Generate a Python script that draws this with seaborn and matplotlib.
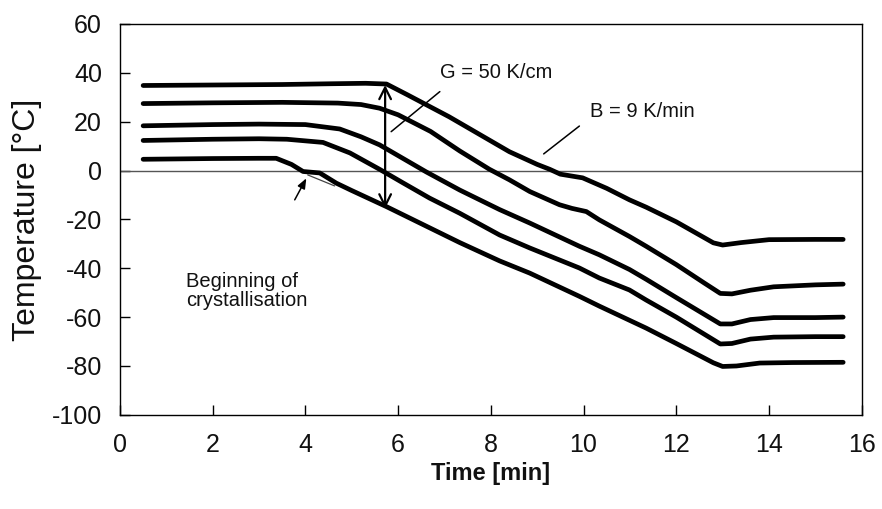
import numpy as np
import pandas as pd
import matplotlib
matplotlib.use("Agg")
import matplotlib.pyplot as plt
from matplotlib import font_manager
import seaborn as sns

# ---- data ----
t1 = [0.5, 2.0, 3.5, 4.5, 5.3, 5.75, 6.2, 7.1, 8.4, 9.0, 9.27, 9.5, 9.98, 10.5, 10.99, 11.35, 12.0, 12.8, 13.0, 13.4, 14.0, 15.0, 15.6]
T1 = [34.8, 35.0, 35.2, 35.5, 35.7, 35.4, 31.0, 22.0, 7.7, 2.5, 0.5, -1.5, -3.0, -7.3, -12.0, -15.0, -21.0, -29.6, -30.5, -29.5, -28.3, -28.2, -28.2]

t2 = [0.5, 2.0, 3.5, 4.7, 5.2, 5.6, 6.0, 6.7, 7.33, 7.97, 8.4, 8.84, 9.48, 9.75, 10.06, 10.34, 10.99, 11.35, 12.0, 12.6, 12.95, 13.2, 13.6, 14.1, 15.0, 15.6]
T2 = [27.4, 27.7, 27.9, 27.6, 27.0, 25.5, 22.8, 16.0, 8.0, 0.5, -3.8, -8.6, -14.0, -15.5, -16.8, -20.2, -27.0, -31.0, -38.5, -46.0, -50.3, -50.5, -49.0, -47.6, -46.8, -46.5]

t3 = [0.5, 2.0, 3.0, 4.0, 4.74, 5.2, 5.6, 6.1, 6.6, 7.33, 8.19, 8.84, 9.91, 10.34, 10.99, 11.35, 12.0, 12.95, 13.2, 13.6, 14.1, 15.0, 15.6]
T3 = [18.3, 18.8, 19.0, 18.8, 17.0, 13.8, 10.5, 5.0, -0.5, -8.0, -16.0, -21.5, -31.0, -34.5, -40.5, -44.5, -52.0, -62.8, -62.8, -61.0, -60.2, -60.2, -60.0]

t4 = [0.5, 2.0, 3.0, 3.6, 4.38, 4.96, 5.6, 6.1, 6.68, 7.33, 8.19, 8.84, 9.91, 10.34, 10.99, 11.35, 12.0, 12.95, 13.2, 13.6, 14.1, 15.0, 15.6]
T4 = [12.3, 12.8, 13.0, 12.8, 11.5, 7.2, 0.5, -5.0, -11.3, -17.5, -26.4, -31.7, -39.9, -44.0, -48.9, -53.0, -60.0, -71.0, -70.8, -69.0, -68.2, -68.0, -68.0]

t5 = [0.5, 2.0, 3.0, 3.37, 3.7, 3.95, 4.31, 4.67, 5.0, 5.75, 6.47, 7.33, 8.19, 8.84, 9.91, 10.34, 11.35, 12.0, 12.8, 13.0, 13.3, 13.8, 14.5, 15.6]
T5 = [4.6, 4.9, 5.0, 5.0, 2.5, -0.4, -1.0, -5.2, -8.2, -14.8, -21.5, -29.5, -37.0, -42.0, -51.5, -55.5, -64.5, -70.8, -78.7, -80.2, -80.0, -78.8, -78.6, -78.5]

# thin trace below the bottom curve at the onset of crystallisation
ref_t = [4.05, 4.63]
ref_T = [-1.8, -6.3]

curves = [(t1, T1), (t2, T2), (t3, T3), (t4, T4), (t5, T5)]

x_ticks = [0, 2, 4, 6, 8, 10, 12, 14, 16]
y_ticks = [-100, -80, -60, -40, -20, 0, 20, 40, 60]

# annotations
g_arrow_t = 5.72
g_arrow_T = [35.0, -15.5]
g_text = "G = 50 K/cm"
g_text_pos = (6.9, 40.0)
g_line = ([6.9, 5.85], [32.3, 15.9])
b_text = "B = 9 K/min"
b_text_pos = (10.13, 24.0)
b_line = ([9.91, 9.14], [18.2, 6.8])
c_text = "Beginning of\ncrystallisation"
c_text_pos = (1.42, -41.5)
c_arrow_tail = (3.77, -12.0)
c_arrow_head = (4.02, -3.2)

# ---- plotting ----
sns.set_theme(style="ticks")
plt.rcParams["font.family"] = ["Liberation Sans", "DejaVu Sans"]
plt.rcParams["axes.unicode_minus"] = False
plt.rcParams["text.color"] = "#111111"

# condensed font for the x label if available
try:
    font_manager.findfont(font_manager.FontProperties(family="Liberation Sans Narrow"),
                          fallback_to_default=False)
    xl_family, xl_size = ["Liberation Sans Narrow", "Liberation Sans"], 19
except Exception:
    xl_family, xl_size = ["Liberation Sans", "DejaVu Sans"], 17

frames = []
for i, (t, T) in enumerate(curves):
    frames.append(pd.DataFrame({"Time": t, "Temp": T, "curve": f"c{i+1}"}))
df = pd.concat(frames, ignore_index=True)

fig = plt.figure(figsize=(8.82, 5.09), dpi=100)
ax = fig.add_axes([0.136, 0.185, 0.841, 0.768])

ax.axhline(0, color="#555555", lw=1.0, zorder=1)

sns.lineplot(data=df, x="Time", y="Temp", hue="curve", units="curve",
             estimator=None, sort=False, palette=["black"] * 5,
             linewidth=3.4, legend=False, ax=ax, zorder=3)
sns.lineplot(x=ref_t, y=ref_T, color="#444444", linewidth=0.9, ax=ax, zorder=2)

ax.set_xlim(0, 16)
ax.set_ylim(-100, 60)
ax.set_xticks(x_ticks)
ax.set_yticks(y_ticks)
ax.tick_params(direction="in", length=7, width=1.0, color="black",
               labelsize=18, labelcolor="#111111", pad=13, top=False, right=False)
for s in ax.spines.values():
    s.set_color("black")
    s.set_linewidth(1.0)

ax.set_xlabel("Time [min]", fontsize=xl_size, fontweight="bold",
              family=xl_family, labelpad=4, color="#111111")
ax.set_ylabel("Temperature [°C]", fontsize=23, labelpad=7, color="#111111")

# double-headed G arrow
ax.annotate("", xy=(g_arrow_t, g_arrow_T[0]), xytext=(g_arrow_t, g_arrow_T[1]),
            arrowprops=dict(arrowstyle="<->,head_length=0.7,head_width=0.35",
                            color="black", lw=1.6, shrinkA=0, shrinkB=0), zorder=4)
ax.plot(g_line[0], g_line[1], color="black", lw=1.1)
ax.text(g_text_pos[0], g_text_pos[1], g_text, fontsize=14.5, va="center", ha="left")

ax.plot(b_line[0], b_line[1], color="black", lw=1.1)
ax.text(b_text_pos[0], b_text_pos[1], b_text, fontsize=14.5, va="center", ha="left")

ax.annotate("", xy=c_arrow_head, xytext=c_arrow_tail,
            arrowprops=dict(arrowstyle="-|>,head_length=0.5,head_width=0.2",
                            color="black", lw=1.1, shrinkA=0, shrinkB=0))
ax.text(c_text_pos[0], c_text_pos[1], c_text, fontsize=14.5, va="top", ha="left",
        linespacing=1.0)

fig.savefig("out.png", dpi=100)
